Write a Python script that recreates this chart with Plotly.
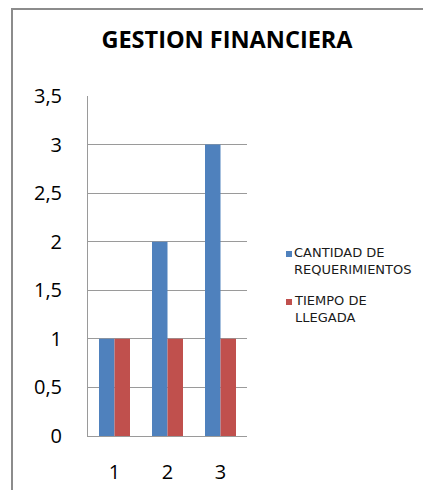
import plotly.graph_objects as go

categories = ["1", "2", "3"]
cantidad_requerimientos = [1, 2, 3]
tiempo_llegada = [1, 1, 1]
series_names = ["CANTIDAD DE<br>REQUERIMIENTOS", "TIEMPO DE<br>LLEGADA"]
y_tick_vals = [0, 0.5, 1, 1.5, 2, 2.5, 3, 3.5]
y_tick_text = ["0", "0,5", "1", "1,5", "2", "2,5", "3", "3,5"]

BLUE = "#4F81BD"
RED = "#C0504D"
GRID = "#9A9A9A"

# the page body has an 8px margin; lay out in page pixels and shift
OFF = 8
W, H = 431 - 2 * OFF, 498 - 2 * OFF
L, R, T, B = 88 - OFF, 247 - OFF, 96 - OFF, 436 - OFF  # plot area in figure px


def px_x(px):
    return (px - OFF - L) / (R - L)


def px_y(py):
    return (B - (py - OFF)) / (B - T)


fig = go.Figure()
fig.add_trace(go.Bar(x=categories, y=cantidad_requerimientos, name=series_names[0],
                     marker=dict(color=BLUE, line=dict(width=0))))
fig.add_trace(go.Bar(x=categories, y=tiempo_llegada, name=series_names[1],
                     marker=dict(color=RED, line=dict(width=0))))

shapes = [
    # chart border (top and left)
    dict(type="line", xref="paper", yref="paper", x0=px_x(12), x1=px_x(OFF + W),
         y0=px_y(9), y1=px_y(9), line=dict(color="#8C8C8C", width=2)),
    dict(type="line", xref="paper", yref="paper", x0=px_x(12), x1=px_x(12),
         y0=px_y(8), y1=px_y(OFF + H), line=dict(color="#8C8C8C", width=2)),
    # legend swatches
    dict(type="rect", xref="paper", yref="paper", x0=px_x(286), x1=px_x(292),
         y0=px_y(257), y1=px_y(251), fillcolor=BLUE, line=dict(width=0)),
    dict(type="rect", xref="paper", yref="paper", x0=px_x(286), x1=px_x(292),
         y0=px_y(305), y1=px_y(299), fillcolor=RED, line=dict(width=0)),
]

legend_font = dict(family="DejaVu Sans", size=13, color="#1a1a1a")
annotations = [
    dict(xref="paper", yref="paper", x=px_x(292), y=px_y(261), xanchor="left",
         yanchor="middle", align="left", showarrow=False, text=series_names[0],
         font=legend_font),
    dict(xref="paper", yref="paper", x=px_x(292), y=px_y(308.5), xanchor="left",
         yanchor="middle", align="left", showarrow=False, text=series_names[1],
         font=legend_font),
]

fig.update_layout(
    width=W, height=H,
    margin=dict(l=L, r=W - R, t=T, b=H - B, pad=0, autoexpand=False),
    paper_bgcolor="white", plot_bgcolor="white",
    barmode="group", bargap=0.415, bargroupgap=0,
    showlegend=False,
    title=dict(text="<b>GESTION FINANCIERA</b>", xref="container", yref="container",
               x=(227 - OFF) / W, y=1 - (40 - OFF) / H, xanchor="center", yanchor="middle",
               font=dict(family="Open Sans", size=23.5, color="black")),
    font=dict(family="Open Sans", color="black"),
    shapes=shapes,
    annotations=annotations,
)

fig.update_yaxes(range=[0, 3.5], tickvals=y_tick_vals, ticktext=y_tick_text,
                 showgrid=True, gridcolor=GRID, gridwidth=1,
                 showline=True, linecolor=GRID, linewidth=1, automargin=False,
                 ticks="", ticklabelstandoff=21, zeroline=False,
                 tickfont=dict(family="Open Sans", size=20, color="black"))
fig.update_xaxes(type="category", showgrid=False, showline=True, linecolor=GRID,
                 linewidth=1, ticks="", ticklabelstandoff=18, automargin=False,
                 tickfont=dict(family="Open Sans", size=20, color="black"))

fig.write_html("out.html", config={"displayModeBar": False})
